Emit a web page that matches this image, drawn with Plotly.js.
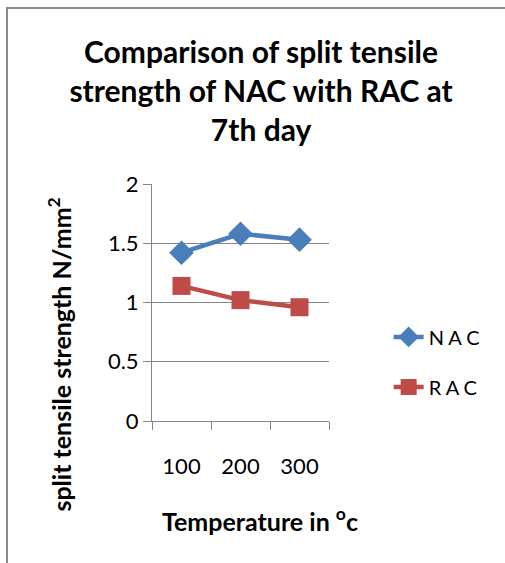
<!DOCTYPE html>
<html>
<head>
<meta charset="utf-8">
<script src="https://cdn.plot.ly/plotly-3.0.1.min.js"></script>
<style>
html,body{margin:0;padding:0;background:#fff;overflow:hidden;}
#frame{position:absolute;left:6px;top:7px;width:600px;height:700px;border:2px solid #8c8c8c;box-sizing:border-box;}
#chart{position:absolute;left:0;top:0;width:505px;height:563px;}
</style>
</head>
<body>
<div id="frame"></div>
<div id="chart"></div>
<script>
const categories = ["100", "200", "300"];
const nacValues = [1.42, 1.58, 1.53];
const racValues = [1.14, 1.02, 0.96];
const yTicks = [0, 0.5, 1, 1.5, 2];

const fontFam = "Lato, 'Open Sans', sans-serif";

const traces = [
  {
    x: categories, y: nacValues, name: "N A C", type: "scatter", mode: "lines+markers",
    legendgroup: "a",
    line: {color: "#4a7ebb", width: 4.5},
    marker: {symbol: "diamond", size: 19, color: "#4a7ebb"}
  },
  {
    x: categories, y: racValues, name: "R A C", type: "scatter", mode: "lines+markers",
    legendgroup: "b",
    line: {color: "#be4b48", width: 4.5},
    marker: {symbol: "square", size: 18, color: "#be4b48"}
  }
];

const layout = {
  width: 505, height: 563,
  margin: {l: 152, r: 176, t: 184, b: 142},
  paper_bgcolor: "rgba(0,0,0,0)",
  plot_bgcolor: "rgba(0,0,0,0)",
  font: {family: fontFam, color: "#000"},
  title: {
    text: "Comparison of split tensile<br>strength of NAC with RAC at<br>7th day",
    font: {family: fontFam, size: 30, weight: "bold", color: "#000"},
    x: 0.517, xanchor: "center", y: 0.888, yanchor: "top", yref: "container"
  },
  xaxis: {
    type: "category",
    range: [-0.5, categories.length - 0.5],
    tickson: "boundaries",
    ticks: "outside", ticklen: 8, tickcolor: "#868686", tickwidth: 1,
    showline: true, linecolor: "#868686", linewidth: 1,
    showgrid: false, zeroline: false,
    tickfont: {family: fontFam, size: 22, color: "#000"},
    ticklabelstandoff: 26
  },
  yaxis: {
    range: [0, 2], tickvals: yTicks, ticktext: yTicks.map(String),
    ticks: "outside", ticklen: 8, tickcolor: "#868686", tickwidth: 1,
    showline: true, linecolor: "#868686", linewidth: 1,
    showgrid: true, gridcolor: "#868686", gridwidth: 1,
    zeroline: false,
    tickfont: {family: fontFam, size: 22, color: "#000"}
  },
  legend: {
    x: 1.337, xanchor: "left", y: 0.437, yanchor: "top",
    font: {family: fontFam, size: 20, color: "#000"},
    traceorder: "grouped", tracegroupgap: 21,
    bgcolor: "rgba(0,0,0,0)"
  },
  annotations: [
    {
      text: "split tensile strength N/mm<sup>2</sup>",
      xref: "paper", yref: "paper", x: -0.52, y: 0.28, xanchor: "center", yanchor: "middle",
      textangle: -90, showarrow: false,
      font: {family: fontFam, size: 25, weight: "bold", color: "#000"}
    },
    {
      text: "Temperature in <sup>o</sup>c",
      xref: "paper", yref: "paper", x: 0.61, y: -0.415, xanchor: "center", yanchor: "middle",
      showarrow: false,
      font: {family: fontFam, size: 25, weight: "bold", color: "#000"}
    }
  ],
  showlegend: true
};

Plotly.newPlot("chart", traces, layout, {displayModeBar: false, staticPlot: true});
</script>
</body>
</html>
